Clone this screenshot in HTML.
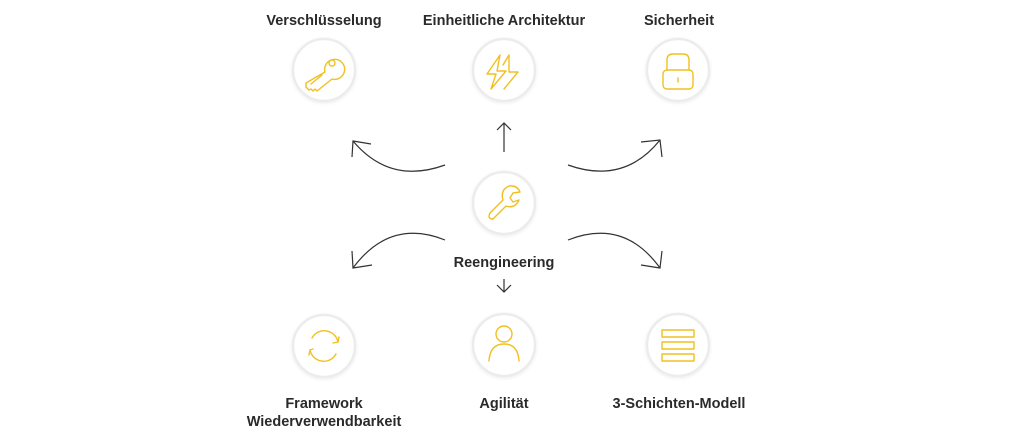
<!DOCTYPE html>
<html><head><meta charset="utf-8"><style>
html,body{margin:0;padding:0;background:#fff;width:1024px;height:440px;overflow:hidden}
svg{display:block}
text{font-family:"Liberation Sans",sans-serif;font-weight:bold;font-size:14.5px;fill:#2a2a2a;text-anchor:middle}
.c{fill:#fff;stroke:#ececec;stroke-width:2.5}
.i{fill:none;stroke:#f0c020;stroke-width:1.4;stroke-linejoin:round;stroke-linecap:round}
.a{fill:none;stroke:#333;stroke-width:1.2}
</style></head><body>
<svg width="1024" height="440" viewBox="0 0 1024 440">
<defs><filter id="s" x="-30%" y="-30%" width="160%" height="160%"><feDropShadow dx="0" dy="1" stdDeviation="1.5" flood-color="#000" flood-opacity="0.08"/></filter></defs>
<text x="324" y="25">Verschlüsselung</text>
<text x="504" y="25">Einheitliche Architektur</text>
<text x="679" y="25">Sicherheit</text>
<text x="504" y="267">Reengineering</text>
<text x="324" y="408">Framework</text>
<text x="324" y="426">Wiederverwendbarkeit</text>
<text x="504" y="408">Agilität</text>
<text x="679" y="408">3-Schichten-Modell</text>
<g filter="url(#s)">
<circle class="c" cx="324" cy="70" r="31"/>
<circle class="c" cx="504" cy="70" r="31"/>
<circle class="c" cx="678" cy="70" r="31"/>
<circle class="c" cx="504" cy="203" r="31"/>
<circle class="c" cx="324" cy="346" r="31"/>
<circle class="c" cx="504" cy="345" r="31"/>
<circle class="c" cx="678" cy="345" r="31"/>
</g>
<!-- key -->
<g class="i"><path d="M325 72 A10 10 0 1 1 332 79 L317 91 L315 89 L313 91 L311 89 L309 90 L306 87 L306 83 Z"/><circle cx="332" cy="63" r="3"/><path d="M311 84 L322 75"/></g>
<!-- bolt -->
<g class="i"><path d="M500 55 L487 74 L496 74 L491 89 L506 71 L497 71 L500 55 M509 55 L503 65 M509 55 L509 72 L518 72 L504 89"/></g>
<!-- lock -->
<g class="i"><path d="M667 70 V60 Q667 54 673 54 H683 Q689 54 689 60 V70"/><rect x="663" y="70" width="30" height="19" rx="4"/><path d="M678 78 V82"/></g>
<!-- wrench -->
<g class="i"><path d="M509 186 Q500 190 503 200 L490 213 Q487 219 493 219 L506 206 Q515 209 519 200 L513 202 L510 198 L513 193 L520 192 Q517 185 509 186 Z"/></g>
<!-- refresh -->
<g class="i"><path d="M338 342 A14 14 0 0 0 312 338 M310 350 A14 14 0 0 0 336 354"/><path d="M333 343 L338 342 L339 337 M313 349 L310 350 L309 355"/></g>
<!-- user -->
<g class="i"><circle cx="504" cy="334" r="8"/><path d="M489 361 Q490 344 504 344 Q518 344 519 361"/></g>
<!-- layers -->
<g class="i"><rect x="662" y="330" width="32" height="7"/><rect x="662" y="342" width="32" height="7"/><rect x="662" y="354" width="32" height="7"/></g>
<!-- arrows -->
<path class="a" d="M445 165 Q390 185 353 141"/><path class="a" d="M352 157 L353 141 L371 144"/>
<path class="a" d="M504 152 V123"/><path class="a" d="M497 130 L504 123 L511 130"/>
<path class="a" d="M568 165 Q624 185 660 140"/><path class="a" d="M641 142 L660 140 L662 157"/>
<path class="a" d="M445 240 Q390 218 353 268"/><path class="a" d="M352 251 L353 268 L372 265"/>
<path class="a" d="M504 279 V292"/><path class="a" d="M497 285 L504 292 L511 285"/>
<path class="a" d="M568 240 Q624 218 660 268"/><path class="a" d="M641 265 L660 268 L662 251"/>
</svg>
</body></html>
